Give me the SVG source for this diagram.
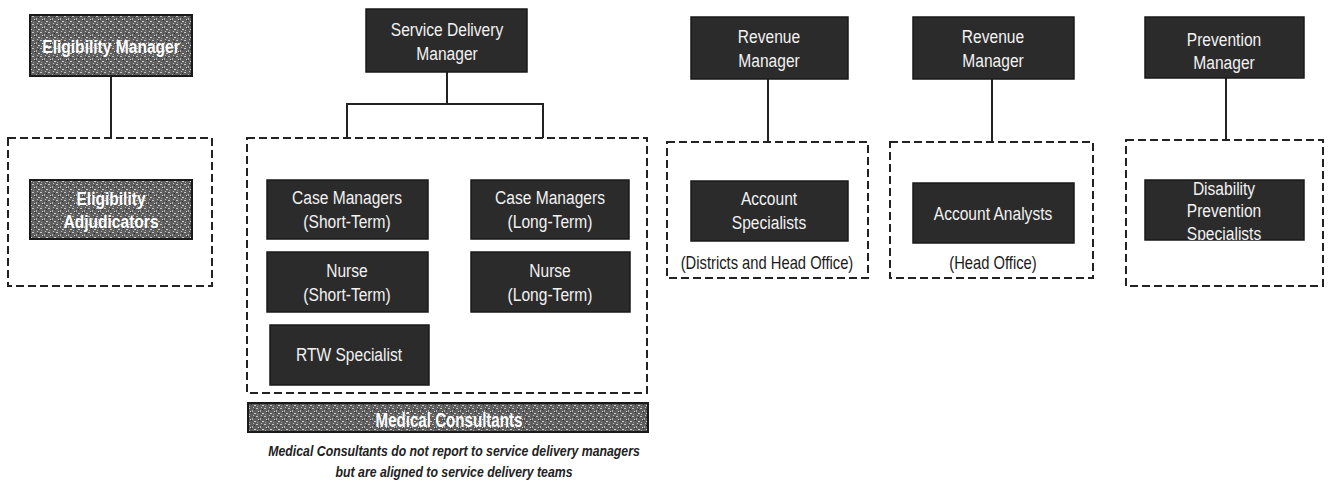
<svg xmlns="http://www.w3.org/2000/svg" width="1332" height="483" viewBox="0 0 1332 483">
<style>
.bg{fill:#ffffff}
.box{fill:#2b2b2b;stroke:#1a1a1a;stroke-width:1.5}
.tex{fill:url(#noise);stroke:#1a1a1a;stroke-width:2}
.dash{fill:none;stroke:#222;stroke-width:2;stroke-dasharray:8 4}
.ln{fill:none;stroke:#222;stroke-width:2}
text{font-family:"Liberation Sans",Arial,sans-serif;text-anchor:middle;transform:scaleX(0.82);transform-box:fill-box;transform-origin:center}
.t{font-size:19px;fill:#f2f2f2}
.tb{font-size:19px;font-weight:bold;fill:#ffffff}
.tbig{font-size:21px;font-weight:bold;fill:#ffffff;transform:scaleX(0.72)}
.lbl{font-size:18px;fill:#1a1a1a}
.note{font-size:15px;font-weight:bold;font-style:italic;fill:#222}
</style>
<defs>
<pattern id="noise" width="8" height="8" patternUnits="userSpaceOnUse">
<rect width="8" height="8" fill="#5e5e5e"/>
<rect x="0" y="0" width="2" height="1" fill="#c8c8c8"/>
<rect x="4" y="2" width="1" height="2" fill="#b0b0b0"/>
<rect x="6" y="5" width="2" height="1" fill="#cfcfcf"/>
<rect x="1" y="6" width="1" height="1" fill="#a4a4a4"/>
<rect x="3" y="4" width="1" height="1" fill="#2a2a2a"/>
<rect x="6" y="1" width="1" height="1" fill="#2a2a2a"/>
<rect x="2" y="3" width="1" height="1" fill="#d8d8d8"/>
<rect x="5" y="7" width="1" height="1" fill="#bcbcbc"/>
</pattern>
<clipPath id="clipDPS"><rect x="1145" y="180" width="159" height="60"/></clipPath>
</defs>
<rect class="bg" x="0" y="0" width="1332" height="483"/>

<g id="connectors">
<line class="ln" x1="111" y1="76" x2="111" y2="138"/>
<line class="ln" x1="447" y1="72" x2="447" y2="104"/>
<polyline class="ln" points="347,138 347,104 543,104 543,138"/>
<line class="ln" x1="768" y1="79" x2="768" y2="142"/>
<line class="ln" x1="992" y1="79" x2="992" y2="142"/>
<line class="ln" x1="1226" y1="78" x2="1226" y2="140"/>
</g>

<g id="group-eligibility">
<rect class="dash" x="8" y="138" width="204" height="148"/>
</g>
<g id="group-service">
<rect class="dash" x="247" y="138" width="400" height="255"/>
</g>
<g id="group-revenue1">
<rect class="dash" x="667" y="142" width="201" height="136"/>
<text class="lbl" x="767" y="269">(Districts and Head Office)</text>
</g>
<g id="group-revenue2">
<rect class="dash" x="890" y="142" width="203" height="136"/>
<text class="lbl" x="993" y="269">(Head Office)</text>
</g>
<g id="group-prevention">
<rect class="dash" x="1126" y="140" width="197" height="146"/>
</g>

<g id="eligibility-manager">
<rect class="tex" x="30" y="15" width="162" height="61"/>
<text class="tb" x="111" y="53">Eligibility Manager</text>
</g>
<g id="eligibility-adjudicators">
<rect class="tex" x="30" y="180" width="162" height="59"/>
<text class="tb" x="111" y="205">Eligibility</text>
<text class="tb" x="111" y="228">Adjudicators</text>
</g>

<g id="service-delivery-manager">
<rect class="box" x="366" y="9" width="161" height="63"/>
<text class="t" x="447" y="36">Service Delivery</text>
<text class="t" x="447" y="60">Manager</text>
</g>
<g id="case-managers-short">
<rect class="box" x="267" y="180" width="161" height="59"/>
<text class="t" x="347" y="204">Case Managers</text>
<text class="t" x="347" y="228">(Short-Term)</text>
</g>
<g id="case-managers-long">
<rect class="box" x="471" y="180" width="158" height="59"/>
<text class="t" x="550" y="204">Case Managers</text>
<text class="t" x="550" y="228">(Long-Term)</text>
</g>
<g id="nurse-short">
<rect class="box" x="267" y="252" width="161" height="60"/>
<text class="t" x="347" y="277">Nurse</text>
<text class="t" x="347" y="301">(Short-Term)</text>
</g>
<g id="nurse-long">
<rect class="box" x="471" y="252" width="159" height="60"/>
<text class="t" x="550" y="277">Nurse</text>
<text class="t" x="550" y="301">(Long-Term)</text>
</g>
<g id="rtw-specialist">
<rect class="box" x="270" y="325" width="159" height="60"/>
<text class="t" x="349" y="361">RTW Specialist</text>
</g>
<g id="medical-consultants">
<rect class="tex" x="248" y="403" width="400" height="29"/>
<text class="tbig" x="449" y="427">Medical Consultants</text>
</g>
<g id="medical-note">
<text class="note" x="454" y="456">Medical Consultants do not report to service delivery managers</text>
<text class="note" x="454" y="477">but are aligned to service delivery teams</text>
</g>

<g id="revenue-manager-1">
<rect class="box" x="691" y="17" width="157" height="62"/>
<text class="t" x="769" y="43">Revenue</text>
<text class="t" x="769" y="67">Manager</text>
</g>
<g id="account-specialists">
<rect class="box" x="691" y="181" width="157" height="60"/>
<text class="t" x="769" y="205">Account</text>
<text class="t" x="769" y="229">Specialists</text>
</g>

<g id="revenue-manager-2">
<rect class="box" x="913" y="17" width="161" height="62"/>
<text class="t" x="993" y="43">Revenue</text>
<text class="t" x="993" y="67">Manager</text>
</g>
<g id="account-analysts">
<rect class="box" x="913" y="183" width="161" height="60"/>
<text class="t" x="993" y="220">Account Analysts</text>
</g>

<g id="prevention-manager">
<rect class="box" x="1145" y="17" width="159" height="61"/>
<text class="t" x="1224" y="46">Prevention</text>
<text class="t" x="1224" y="69">Manager</text>
</g>
<g id="disability-prevention-specialists">
<rect class="box" x="1145" y="180" width="159" height="60"/>
<g clip-path="url(#clipDPS)">
<text class="t" x="1224" y="195">Disability</text>
<text class="t" x="1224" y="217">Prevention</text>
<text class="t" x="1224" y="240">Specialists</text>
</g>
</g>
</svg>
